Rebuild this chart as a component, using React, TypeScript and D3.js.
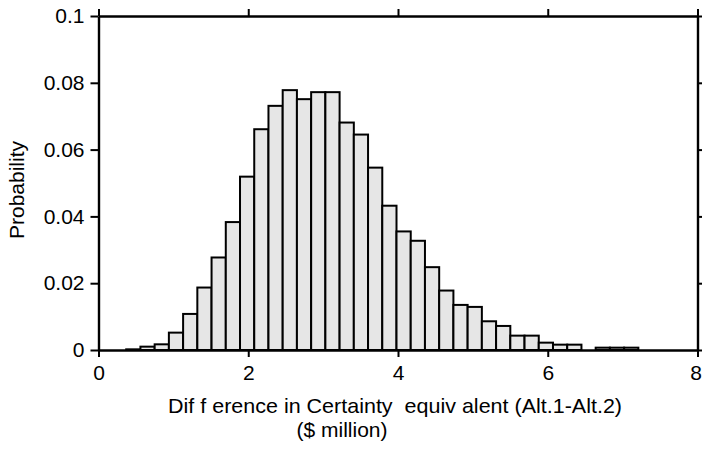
import { useEffect, useRef } from 'react';
import * as d3 from 'd3';

// histogram bins: lower edge of each bin ($ million), bin width, probability
const binStarts = [
  0.37, 0.56, 0.75, 0.94, 1.13, 1.32, 1.51, 1.70, 1.89, 2.08, 2.27, 2.46, 2.65, 2.84,
  3.03, 3.22, 3.41, 3.60, 3.79, 3.98, 4.17, 4.36, 4.55, 4.74, 4.93, 5.12, 5.31, 5.50,
  5.69, 5.88, 6.07, 6.26, 6.45, 6.64, 6.83, 7.02,
];
const binWidth = 0.19;
const probabilities = [
  0.0002, 0.001, 0.0017, 0.0052, 0.0108, 0.0187, 0.0277, 0.0383, 0.0519, 0.0661, 0.0731,
  0.0778, 0.0751, 0.0772, 0.0772, 0.0681, 0.0645, 0.0546, 0.0432, 0.0355, 0.0327, 0.0248,
  0.0178, 0.0135, 0.0129, 0.0086, 0.0072, 0.0043, 0.0043, 0.0022, 0.0016, 0.0016, 0,
  0.0007, 0.0007, 0.0007,
];
const xTicks = [0, 2, 4, 6, 8];
const yTicks = [0, 0.02, 0.04, 0.06, 0.08, 0.1];
const yTickLabels = ['0', '0.02', '0.04', '0.06', '0.08', '0.1'];

const App = () => {
  const svgRef = useRef<SVGSVGElement>(null);

  useEffect(() => {
    const width = 702;
    const height = 450;
    const margin = { top: 16, right: 4.5, bottom: 100, left: 98.5 };
    const font = 'Liberation Sans, Arial, sans-serif';
    const fontSize = '21px';

    const svg = d3.select(svgRef.current).attr('width', width).attr('height', height);
    svg.selectAll('*').remove();

    const x = d3.scaleLinear().domain([0, 8]).range([margin.left, width - margin.right]);
    const y = d3.scaleLinear().domain([0, 0.1]).range([height - margin.bottom, margin.top]);

    const bins = binStarts.map((s, i) => ({ x0: s, x1: s + binWidth, p: probabilities[i] }));

    // bars
    svg.selectAll('.bar')
      .data(bins.filter(d => d.p > 0))
      .enter().append('rect')
      .attr('class', 'bar')
      .attr('x', d => x(d.x0))
      .attr('y', d => y(d.p))
      .attr('width', d => x(d.x1) - x(d.x0))
      .attr('height', d => y(0) - y(d.p))
      .attr('fill', '#e6e6e6')
      .attr('stroke', '#000')
      .attr('stroke-width', 2);

    // axes on all four sides, ticks outward
    const styleAxis = (g: any) => {
      g.select('.domain').attr('stroke-width', 2.4);
      g.selectAll('.tick line').attr('stroke-width', 2);
      g.selectAll('text').style('font-family', font).style('font-size', fontSize).attr('fill', '#000');
    };

    svg.append('g')
      .attr('transform', `translate(0,${y(0)})`)
      .call(d3.axisBottom(x).tickValues(xTicks).tickSize(7).tickSizeOuter(0).tickPadding(8).tickFormat(d3.format('d')))
      .call(styleAxis)
      .selectAll('.tick:last-of-type text')
      .attr('dx', -2);

    svg.append('g')
      .attr('transform', `translate(0,${y(0.1)})`)
      .call(d3.axisTop(x).tickValues(xTicks).tickSize(7).tickSizeOuter(0).tickFormat(() => ''))
      .call(styleAxis);

    svg.append('g')
      .attr('transform', `translate(${x(0)},0)`)
      .call(d3.axisLeft(y).tickValues(yTicks).tickSize(8).tickSizeOuter(0).tickPadding(6)
        .tickFormat((d, i) => yTickLabels[i]))
      .call(styleAxis);

    svg.append('g')
      .attr('transform', `translate(${x(8)},0)`)
      .call(d3.axisRight(y).tickValues(yTicks).tickSize(7).tickSizeOuter(0).tickFormat(() => ''))
      .call(styleAxis);

    // axis titles
    svg.append('text')
      .attr('x', 168)
      .attr('y', 413)
      .attr('xml:space', 'preserve')
      .attr('textLength', 454)
      .attr('lengthAdjust', 'spacingAndGlyphs')
      .style('font-family', font)
      .style('font-size', fontSize)
      .text('Dif f erence in Certainty  equiv alent (Alt.1-Alt.2)');

    svg.append('text')
      .attr('x', 342)
      .attr('y', 437)
      .attr('text-anchor', 'middle')
      .style('font-family', font)
      .style('font-size', fontSize)
      .text('($ million)');

    svg.append('text')
      .attr('transform', `translate(24,190) rotate(-90)`)
      .attr('text-anchor', 'middle')
      .style('font-family', font)
      .style('font-size', fontSize)
      .text('Probability');
  }, []);

  return (
    <div style={{ position: 'absolute', left: 0, top: 0 }}>
      <svg ref={svgRef}></svg>
    </div>
  );
};

export default App;
